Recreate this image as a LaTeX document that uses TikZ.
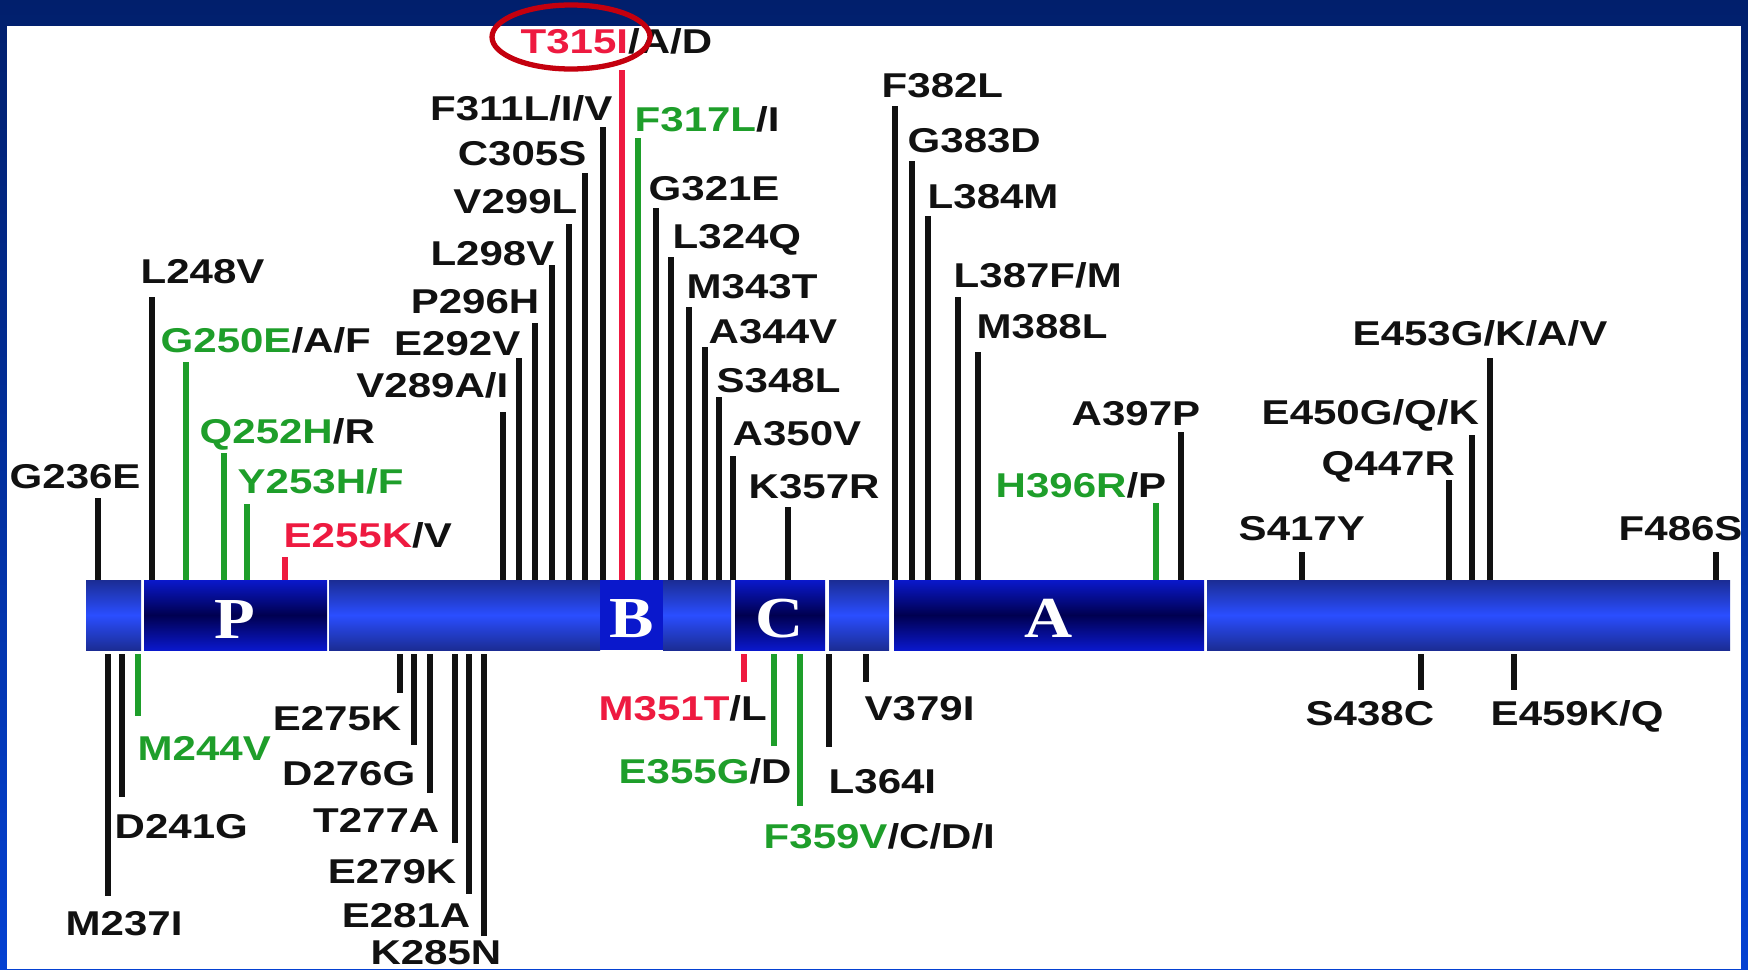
\documentclass[tikz,border=0pt]{standalone}
\usepackage{fontspec}
\usepackage{xcolor}
\newfontfamily\mutfont{Liberation Sans}[FakeStretch=1.22]
\newfontfamily\domfont{Liberation Serif}[FakeStretch=1.15]
\definecolor{Navy}{HTML}{011F6C}
\definecolor{EdgeBlue}{HTML}{0441D2}
\definecolor{BarEdge}{HTML}{1B2C94}
\definecolor{BarMid}{HTML}{2A4EFF}
\definecolor{DomEdge}{HTML}{0A18CC}
\definecolor{DomMid}{HTML}{000050}
\definecolor{MutGreen}{HTML}{1E9E2A}
\definecolor{MutRed}{HTML}{EE1A40}
\definecolor{Ring}{HTML}{C4000E}
\definecolor{Ink}{HTML}{111111}

\begin{document}
\begin{tikzpicture}[x=0.1mm,y=-0.1mm,
    lab/.style={font=\mutfont\bfseries\fontsize{9.8}{11}\selectfont,text=Ink,inner sep=0pt},
    dom/.style={font=\domfont\bfseries\fontsize{16.5}{18}\selectfont,text=white,inner sep=0pt,anchor=base},
    tick/.style={line width=1.5pt}]
  \useasboundingbox (0,0) rectangle (1748,969);
  \shade[top color=Navy,bottom color=EdgeBlue] (0,0) rectangle (1748,969);
  \fill[white] (7,26) rectangle (1741,969);

  % kinase bar
  \foreach \a/\b in {86/141,329/600,663/731,829/889,1207/1730}
    \shade[top color=BarEdge,bottom color=BarEdge,middle color=BarMid] (\a,580) rectangle (\b,650);
  \foreach \a/\b in {144/327,735/825,894/1204}
    \shade[top color=DomEdge,bottom color=DomEdge,middle color=DomMid] (\a,580) rectangle (\b,650);
  \fill[DomEdge] (600,580) rectangle (663,650);
  \node[dom] (pdom) at (235,638) {P};
  \node[dom] (bdom) at (632,637) {B};
  \node[dom] (cdom) at (780,637) {C};
  \node[dom] (adom) at (1049,637) {A};

  % ticks above
  \foreach \x/\t in {98/498,152/297,503/412,519/358,535/323,552/265,569/224,585/173,603/127,
      656/208,671/257,689/307,705/347,719/397,733/456,788/507,895/106,912/161,928/216,958/297,
      978/352,1181/432,1302/552,1449/480,1472/435,1490/358,1716/552}
    \draw[tick,Ink] (\x,580) -- (\x,\t);
  \foreach \x/\t in {186/362,224/453,247/504,638/138,1156/503}
    \draw[tick,MutGreen] (\x,580) -- (\x,\t);
  \foreach \x/\t in {285/557,622/70}
    \draw[tick,MutRed] (\x,580) -- (\x,\t);
  % ticks below
  \foreach \x/\b in {108/896,122/797,400/693,414/745,430/793,455/843,469/894,484/936,
      829/747,866/682,1421/690,1514/690}
    \draw[tick,Ink] (\x,654) -- (\x,\b);
  \foreach \x/\b in {138/716,774/746,800/806}
    \draw[tick,MutGreen] (\x,654) -- (\x,\b);
  \draw[tick,MutRed] (744,654) -- (744,682);

  % labels above
  \node[lab,anchor=base west] (g236e) at (9,488) {G236E};
  \node[lab,anchor=base west] (l248v) at (140,283) {L248V};
  \node[lab,anchor=base west] (g250e) at (160,352) {\textcolor{MutGreen}{G250E}/A/F};
  \node[lab,anchor=base west] (q252h) at (199,443) {\textcolor{MutGreen}{Q252H}/R};
  \node[lab,anchor=base west,text=MutGreen] (y253h) at (237,493) {Y253H/F};
  \node[lab,anchor=base west] (e255k) at (283,547) {\textcolor{MutRed}{E255K}/V};
  \node[lab,anchor=base east] (v289a) at (509,397) {V289A/I};
  \node[lab,anchor=base east] (e292v) at (521,355) {E292V};
  \node[lab,anchor=base east] (p296h) at (540,313) {P296H};
  \node[lab,anchor=base east] (l298v) at (555,265) {L298V};
  \node[lab,anchor=base east] (v299l) at (578,213) {V299L};
  \node[lab,anchor=base east] (c305s) at (587,165) {C305S};
  \node[lab,anchor=base east] (f311l) at (613,120) {F311L/I/V};
  \node[lab,anchor=base west] (t315i) at (520,53) {\textcolor{MutRed}{T315I}/A/D};
  \node[lab,anchor=base west] (f317l) at (634,131) {\textcolor{MutGreen}{F317L}/I};
  \node[lab,anchor=base west] (g321e) at (648,200) {G321E};
  \node[lab,anchor=base west] (l324q) at (672,248) {L324Q};
  \node[lab,anchor=base west] (m343t) at (686,298) {M343T};
  \node[lab,anchor=base west] (a344v) at (708,343) {A344V};
  \node[lab,anchor=base west] (s348l) at (716,392) {S348L};
  \node[lab,anchor=base west] (a350v) at (732,445) {A350V};
  \node[lab,anchor=base west] (k357r) at (748,498) {K357R};
  \node[lab,anchor=base west] (f382l) at (881,97) {F382L};
  \node[lab,anchor=base west] (g383d) at (907,152) {G383D};
  \node[lab,anchor=base west] (l384m) at (927,208) {L384M};
  \node[lab,anchor=base west] (l387f) at (953,287) {L387F/M};
  \node[lab,anchor=base west] (m388l) at (976,338) {M388L};
  \node[lab,anchor=base west] (h396r) at (995,497) {\textcolor{MutGreen}{H396R}/P};
  \node[lab,anchor=base west] (a397p) at (1071,425) {A397P};
  \node[lab,anchor=base west] (s417y) at (1238,540) {S417Y};
  \node[lab,anchor=base west] (q447r) at (1321,475) {Q447R};
  \node[lab,anchor=base west] (e450g) at (1261,424) {E450G/Q/K};
  \node[lab,anchor=base west] (e453g) at (1352,345) {E453G/K/A/V};
  \node[lab,anchor=base west] (f486s) at (1618,540) {F486S};
  \draw[Ring,line width=1.5pt] (571,37) ellipse [x radius=79,y radius=32];

  % labels below
  \node[lab,anchor=base west] (m237i) at (65,935) {M237I};
  \node[lab,anchor=base west] (d241g) at (114,838) {D241G};
  \node[lab,anchor=base west,text=MutGreen] (m244v) at (137,760) {M244V};
  \node[lab,anchor=base east] (e275k) at (402,730) {E275K};
  \node[lab,anchor=base east] (d276g) at (416,785) {D276G};
  \node[lab,anchor=base east] (t277a) at (440,832) {T277A};
  \node[lab,anchor=base east] (e279k) at (457,883) {E279K};
  \node[lab,anchor=base east] (e281a) at (471,927) {E281A};
  \node[lab,anchor=base east] (k285n) at (502,964) {K285N};
  \node[lab,anchor=base west] (m351t) at (598,720) {\textcolor{MutRed}{M351T}/L};
  \node[lab,anchor=base west] (e355g) at (618,783) {\textcolor{MutGreen}{E355G}/D};
  \node[lab,anchor=base west] (f359v) at (763,848) {\textcolor{MutGreen}{F359V}/C/D/I};
  \node[lab,anchor=base west] (l364i) at (828,793) {L364I};
  \node[lab,anchor=base west] (v379i) at (864,720) {V379I};
  \node[lab,anchor=base west] (s438c) at (1305,725) {S438C};
  \node[lab,anchor=base west] (e459k) at (1490,725) {E459K/Q};
\end{tikzpicture}
\end{document}
